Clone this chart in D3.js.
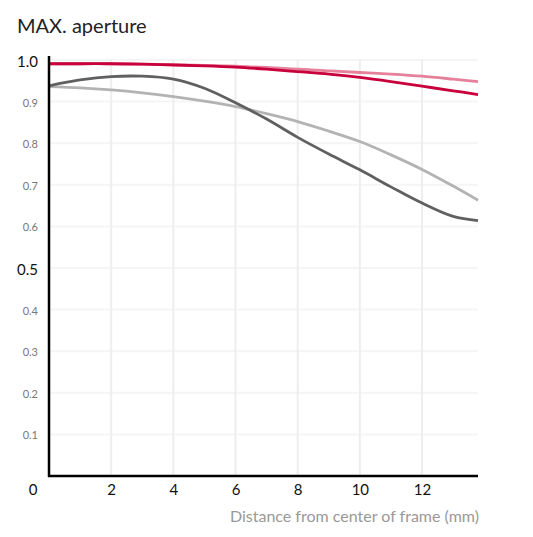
<!DOCTYPE html>
<html>
<head>
<meta charset="utf-8">
<script src="https://cdn.jsdelivr.net/npm/d3@7"></script>
<style>
  body { margin: 0; background: #fff; }
  text { font-family: Lato, "Open Sans", sans-serif; }
</style>
</head>
<body>
<svg id="chart"></svg>
<script>
var width = 533;
var height = 537;

// distance from center of frame (mm)
var distances = [0, 1, 2, 3, 4, 5, 6, 7, 8, 9, 10, 11, 12, 13, 13.8];

// relative illumination at max aperture
var redValues = [0.991, 0.991, 0.991, 0.99, 0.988, 0.986, 0.983, 0.978, 0.972, 0.966, 0.958, 0.948, 0.937, 0.926, 0.917];
var pinkValues = [0.991, 0.991, 0.991, 0.99, 0.989, 0.987, 0.985, 0.982, 0.978, 0.974, 0.97, 0.966, 0.961, 0.954, 0.948];
var darkValues = [0.938, 0.952, 0.96, 0.961, 0.954, 0.932, 0.897, 0.858, 0.814, 0.774, 0.736, 0.695, 0.656, 0.624, 0.614];
var lightValues = [0.936, 0.933, 0.928, 0.921, 0.912, 0.901, 0.888, 0.871, 0.852, 0.829, 0.804, 0.772, 0.737, 0.697, 0.663];

var xTicks = [2, 4, 6, 8, 10, 12];
var yTicks = [0.1, 0.2, 0.3, 0.4, 0.5, 0.6, 0.7, 0.8, 0.9, 1.0];
var bigYTicks = [0.5, 1.0];

var series = [
  { name: "light", values: lightValues, color: "#b3b3b3" },
  { name: "dark", values: darkValues, color: "#606060" },
  { name: "pink", values: pinkValues, color: "#e6819b" },
  { name: "red", values: redValues, color: "#c8003b" }
];

var svg = d3.select("#chart").attr("width", width).attr("height", height);

var x = d3.scaleLinear().domain([0, 13.8]).range([49, 478]);
var y = d3.scaleLinear().domain([0, 1]).range([476, 60]);

// grid
svg.append("g")
  .selectAll("line")
  .data(yTicks)
  .enter()
  .append("line")
  .attr("x1", x(0))
  .attr("x2", x(13.8))
  .attr("y1", function (d) { return y(d); })
  .attr("y2", function (d) { return y(d); })
  .attr("stroke", "#f5f5f5")
  .attr("stroke-width", 2);

svg.append("g")
  .selectAll("line")
  .data(xTicks)
  .enter()
  .append("line")
  .attr("x1", function (d) { return x(d); })
  .attr("x2", function (d) { return x(d); })
  .attr("y1", y(1))
  .attr("y2", y(0))
  .attr("stroke", "#eeeeee")
  .attr("stroke-width", 2);

// curves
var line = d3.line()
  .x(function (d, i) { return x(distances[i]); })
  .y(function (d) { return y(d); })
  .curve(d3.curveCatmullRom.alpha(0.5));

svg.append("g")
  .selectAll("path")
  .data(series)
  .enter()
  .append("path")
  .attr("d", function (d) { return line(d.values); })
  .attr("fill", "none")
  .attr("stroke", function (d) { return d.color; })
  .attr("stroke-width", 2.8);

// axes
var xAxis = svg.append("g")
  .attr("transform", "translate(0," + y(0) + ")")
  .call(d3.axisBottom(x).tickValues(xTicks).tickSize(0).tickPadding(8));
xAxis.select(".domain").attr("stroke", "#000").attr("stroke-width", 2.5)
  .attr("d", "M" + (x(0) - 1) + ",0H" + x(13.8));
xAxis.selectAll("text")
  .style("font-size", "15px")
  .style("font-family", "Lato, sans-serif")
  .attr("fill", "#111");

var yAxis = svg.append("g")
  .attr("transform", "translate(" + x(0) + ",0)")
  .call(d3.axisLeft(y).tickValues(yTicks).tickSize(0).tickPadding(11).tickFormat(d3.format(".1f")));
yAxis.select(".domain").attr("stroke", "#000").attr("stroke-width", 2.5)
  .attr("d", "M0,56V" + (y(0) + 1));
yAxis.selectAll("text")
  .style("font-family", "Lato, sans-serif")
  .attr("dy", "0.4em")
  .style("font-size", function (d) { return bigYTicks.indexOf(d) >= 0 ? "15px" : "11px"; })
  .attr("fill", function (d) { return bigYTicks.indexOf(d) >= 0 ? "#111" : "#777"; });

// origin label
svg.append("text")
  .attr("x", 33)
  .attr("y", 495)
  .attr("text-anchor", "middle")
  .style("font-size", "15px")
  .attr("fill", "#111")
  .text("0");

// titles
svg.append("text")
  .attr("x", 17)
  .attr("y", 33)
  .style("font-size", "20px")
  .attr("fill", "#222")
  .text("MAX. aperture");

svg.append("text")
  .attr("x", 479)
  .attr("y", 522)
  .attr("text-anchor", "end")
  .style("font-size", "16px")
  .attr("fill", "#999")
  .text("Distance from center of frame (mm)");
</script>
</body>
</html>
